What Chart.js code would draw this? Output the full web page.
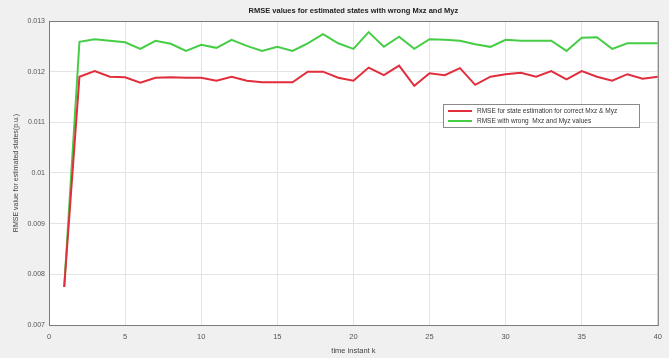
<!DOCTYPE html>
<html>
<head>
<meta charset="utf-8">
<script src="https://cdn.jsdelivr.net/npm/chart.js@4/dist/chart.umd.min.js"></script>
<style>
  html, body { margin: 0; padding: 0; background: #f0f0f0; }
  #wrap { width: 669px; height: 358px; }
</style>
</head>
<body>
<div id="wrap"><canvas id="rmseChart" width="669" height="358"></canvas></div>
<script>
// time instants k = 1..40
const timeK = [1,2,3,4,5,6,7,8,9,10,11,12,13,14,15,16,17,18,19,20,
               21,22,23,24,25,26,27,28,29,30,31,32,33,34,35,36,37,38,39,40];

// RMSE with correct Mxz & Myz (red)
const rmseCorrect = [0.00775,0.01190,0.01201,0.01190,0.01189,0.01178,0.01188,0.01189,0.01188,0.01188,
                     0.01182,0.01190,0.01182,0.01179,0.01179,0.01179,0.01200,0.01200,0.01188,0.01182,
                     0.01208,0.01193,0.01212,0.01172,0.01197,0.01193,0.01207,0.01174,0.01190,0.01195,
                     0.01198,0.01190,0.01201,0.01185,0.01201,0.01190,0.01182,0.01195,0.01186,0.01190];

// RMSE with wrong Mxz and Myz (green)
const rmseWrong = [0.00775,0.01259,0.01264,0.01261,0.01258,0.01245,0.01261,0.01255,0.01241,0.01253,
                   0.01247,0.01263,0.01251,0.01241,0.01249,0.01241,0.01256,0.01274,0.01256,0.01245,
                   0.01278,0.01249,0.01269,0.01245,0.01264,0.01263,0.01261,0.01254,0.01249,0.01263,
                   0.01261,0.01261,0.01261,0.01241,0.01267,0.01268,0.01245,0.01256,0.01256,0.01256];

const xTicks = [0,5,10,15,20,25,30,35,40];
const yTicks = [0.007,0.008,0.009,0.01,0.011,0.012,0.013];

const seriesLabels = ["RMSE for state estimation for correct Mxz & Myz",
                      "RMSE with wrong  Mxz and Myz values"];
const titleText = "RMSE values for estimated states with wrong Mxz and Myz";

const FONT = "Arial, 'Liberation Sans', sans-serif";

// matlab-like figure: grey page, white axes, box, legend inside
const matlabLook = {
  id: "matlabLook",
  beforeDraw(chart) {
    const c = chart.ctx, a = chart.chartArea;
    c.save();
    c.fillStyle = "#f0f0f0";
    c.fillRect(0, 0, chart.width, chart.height);
    c.fillStyle = "#ffffff";
    c.fillRect(a.left, a.top, a.right - a.left, a.bottom - a.top);
    c.restore();
  },
  afterDraw(chart) {
    const c = chart.ctx, a = chart.chartArea;
    c.save();
    c.strokeStyle = "#7a7a7a";
    c.lineWidth = 1;
    c.strokeRect(a.left + 0.5, a.top + 0.5, a.right - a.left, a.bottom - a.top);

    // title
    c.fillStyle = "#222";
    c.font = "bold 7.5px " + FONT;
    c.textAlign = "center";
    c.textBaseline = "middle";
    c.fillText(titleText, (a.left + a.right) / 2, 11);

    // legend box
    const lx = 443, ly = 104, lw = 196, lh = 23;
    c.fillStyle = "#ffffff";
    c.fillRect(lx, ly, lw, lh);
    c.strokeStyle = "#8a8a8a";
    c.strokeRect(lx + 0.5, ly + 0.5, lw, lh);
    c.font = "6.5px " + FONT;
    c.textAlign = "left";
    chart.data.datasets.forEach((ds, i) => {
      const yy = ly + 7 + i * 10;
      c.strokeStyle = ds.borderColor;
      c.lineWidth = 2;
      c.beginPath();
      c.moveTo(lx + 5, yy);
      c.lineTo(lx + 29, yy);
      c.stroke();
      c.fillStyle = "#333";
      c.fillText(ds.label, lx + 34, yy);
    });
    c.restore();
  }
};

new Chart(document.getElementById("rmseChart"), {
  type: "line",
  data: {
    labels: timeK,
    datasets: [
      {
        label: seriesLabels[0],
        data: timeK.map((k, i) => ({ x: k, y: rmseCorrect[i] })),
        borderColor: "rgb(225,45,60)",
        borderWidth: 2,
        pointRadius: 0,
        fill: false,
        tension: 0
      },
      {
        label: seriesLabels[1],
        data: timeK.map((k, i) => ({ x: k, y: rmseWrong[i] })),
        borderColor: "rgb(70,205,70)",
        borderWidth: 2,
        pointRadius: 0,
        fill: false,
        tension: 0
      }
    ]
  },
  options: {
    responsive: false,
    animation: false,
    layout: { padding: { top: 21, right: 9, left: 0, bottom: 0 } },
    plugins: {
      legend: { display: false },
      tooltip: { enabled: false }
    },
    scales: {
      x: {
        type: "linear",
        min: 0,
        max: 40,
        afterBuildTicks: s => { s.ticks = xTicks.map(v => ({ value: v })); },
        afterFit: s => { s.height = 33; },
        grid: { color: "#e4e4e4", drawTicks: false },
        border: { display: false },
        ticks: { padding: 7, color: "#555", font: { family: FONT, size: 7.5 }, maxRotation: 0 },
        title: { display: true, text: "time instant k", color: "#444",
                 font: { family: FONT, size: 7.5 }, padding: { top: 0, bottom: 3 } }
      },
      y: {
        min: 0.007,
        max: 0.013,
        afterBuildTicks: s => { s.ticks = yTicks.map(v => ({ value: v })); },
        afterFit: s => { s.width = 49; },
        grid: { color: "#e4e4e4", drawTicks: false },
        border: { display: false },
        ticks: { padding: 4, color: "#555", font: { family: FONT, size: 7 },
                 callback: v => String(Number(v.toFixed(3))) },
        title: { display: true, text: "RMSE value for estimated states(p.u.)", color: "#444",
                 font: { family: FONT, size: 7 }, padding: { top: 12, bottom: 0 } }
      }
    }
  },
  plugins: [matlabLook]
});
</script>
</body>
</html>
